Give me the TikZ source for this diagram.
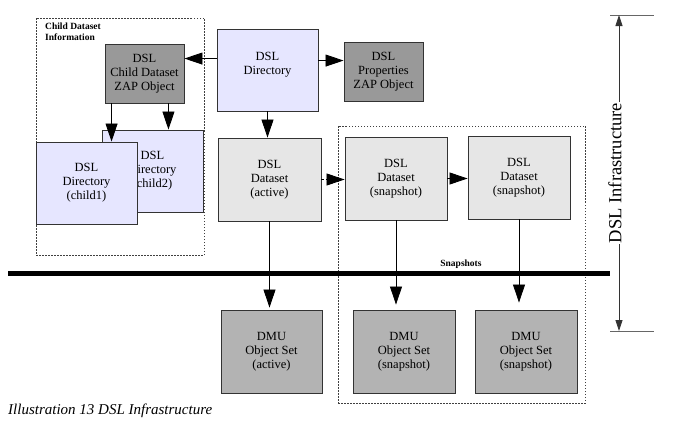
\documentclass[tikz,border=0pt]{standalone}
\usepackage{fontspec}
\setmainfont{Liberation Serif}
\usetikzlibrary{arrows.meta}
\definecolor{lav}{RGB}{230,230,255}
\definecolor{dkgray}{RGB}{153,153,153}
\definecolor{ltgray}{RGB}{230,230,230}
\definecolor{mdgray}{RGB}{179,179,179}
\definecolor{edge}{RGB}{51,51,51}
\tikzset{
  box/.style={draw=edge, line width=0.9pt, inner sep=0pt, align=center,
    font=\fontsize{12.5}{14}\selectfont},
  wbox/.style={box, minimum width=101pt, minimum height=82pt},
  sbox/.style={box, minimum width=79pt, minimum height=59pt},
  arr/.style={draw=black, line width=0.8pt, -{Triangle[length=18pt,width=12pt]}},
  dimarr/.style={draw=black!80, line width=0.8pt, {Triangle[length=11pt,width=7pt]}-{Triangle[length=11pt,width=7pt]}},
  dotbox/.style={draw=black!75, line width=0.8pt, dash pattern=on 1.5pt off 1.5pt},
  small/.style={font=\fontsize{9.5}{11}\selectfont\bfseries},
}
\begin{document}
\begin{tikzpicture}[x=1pt,y=-1pt]
\useasboundingbox (0,0) rectangle (689,439);
% dashed group boxes
\node[dotbox, minimum width=168pt, minimum height=237pt, inner sep=0pt] (cgrp) at (120,136.5) {};
\node[dotbox, minimum width=247pt, minimum height=277pt, inner sep=0pt] (sgrp) at (461.5,264.5) {};
\node[small, anchor=north west, align=left, inner sep=0pt] (cinfo) at (45,23) {Child Dataset\\Information};
% boxes
\node[sbox, fill=dkgray] (czap) at (144.5,73.5) {DSL\\Child Dataset\\ZAP Object};
\node[wbox, fill=lav] (child2) at (152.5,171) {DSL\\Directory\\(child2)};
\node[wbox, fill=lav] (child1) at (86.5,183) {DSL\\Directory\\(child1)};
\node[wbox, fill=lav] (dir) at (267.5,70) {DSL\\Directory\\\mbox{}};
\node[sbox, fill=dkgray] (props) at (383.5,71.5) {DSL\\Properties\\ZAP Object};
\node[wbox, fill=ltgray, minimum width=103pt, minimum height=83pt] (active) at (269.5,179.5) {DSL\\Dataset\\(active)};
\node[wbox, fill=ltgray, minimum width=102pt, minimum height=83pt] (snap1) at (396,178.5) {DSL\\Dataset\\(snapshot)};
\node[wbox, fill=ltgray, minimum width=102pt, minimum height=83pt] (snap2) at (519,177.5) {DSL\\Dataset\\(snapshot)};
\node[wbox, fill=mdgray, minimum height=83pt] (dmua) at (271.5,351.5) {DMU\\Object Set\\(active)};
\node[wbox, fill=mdgray, minimum width=102pt, minimum height=83pt] (dmus1) at (404,351.5) {DMU\\Object Set\\(snapshot)};
\node[wbox, fill=mdgray, minimum width=102pt, minimum height=83pt] (dmus2) at (526,351.5) {DMU\\Object Set\\(snapshot)};
% connectors
\coordinate (c1) at ([xshift=7pt]czap.south west);
\coordinate (c2) at ([xshift=-16pt]czap.south east);
\draw[arr] (c1) -- (c1 |- child1.north);
\draw[arr] (c2) -- (c2 |- child2.north);
\coordinate (d1) at ([yshift=-30pt]dir.north west);
\coordinate (d2) at ([yshift=-32pt]dir.north east);
\draw[arr] (d1) -- (d1 -| czap.east);
\draw[arr] (d2) -- (d2 -| props.west);
\draw[arr] (dir.south) -- (dir.south |- active.north);
\draw[arr, dash pattern=on 3pt off 2pt] (active.east) -- (active.east -| snap1.west);
\draw[arr] (snap1.east) -- (snap1.east -| snap2.west);
\draw[arr, shorten >=2pt] (active.south) -- (active.south |- dmua.north);
\draw[arr, shorten >=5pt] (snap1.south) -- (snap1.south |- dmus1.north);
\draw[arr, shorten >=7pt] (snap2.south) -- (snap2.south |- dmus2.north);
% thick line
\coordinate (tl) at (8,273);
\coordinate (tr) at (610,273);
\draw[line width=5pt] (tl) -- (tr);
\node[small, inner sep=0pt] (snaplbl) at (461,264.5) {Snapshots};
% dimension
\coordinate (dt) at (619,15);
\coordinate (db) at (619,331);
\coordinate (tt1) at (610,15);
\coordinate (tt2) at (654,15);
\coordinate (tb1) at (610,331);
\coordinate (tb2) at (654,331);
\draw[black!60, line width=0.8pt] (tt1) -- (tt2);
\draw[black!60, line width=0.8pt] (tb1) -- (tb2);
\draw[dimarr] (dt) -- (db);
\node[rotate=90, fill=white, inner sep=1pt, font=\fontsize{18.5}{20}\selectfont] (dsli) at (615,173) {DSL Infrastructure};
% caption
\node[anchor=west, inner sep=0pt, font=\fontsize{15}{17}\selectfont\itshape] (cap) at (8,411) {Illustration 13 DSL Infrastructure};
\end{tikzpicture}
\end{document}
